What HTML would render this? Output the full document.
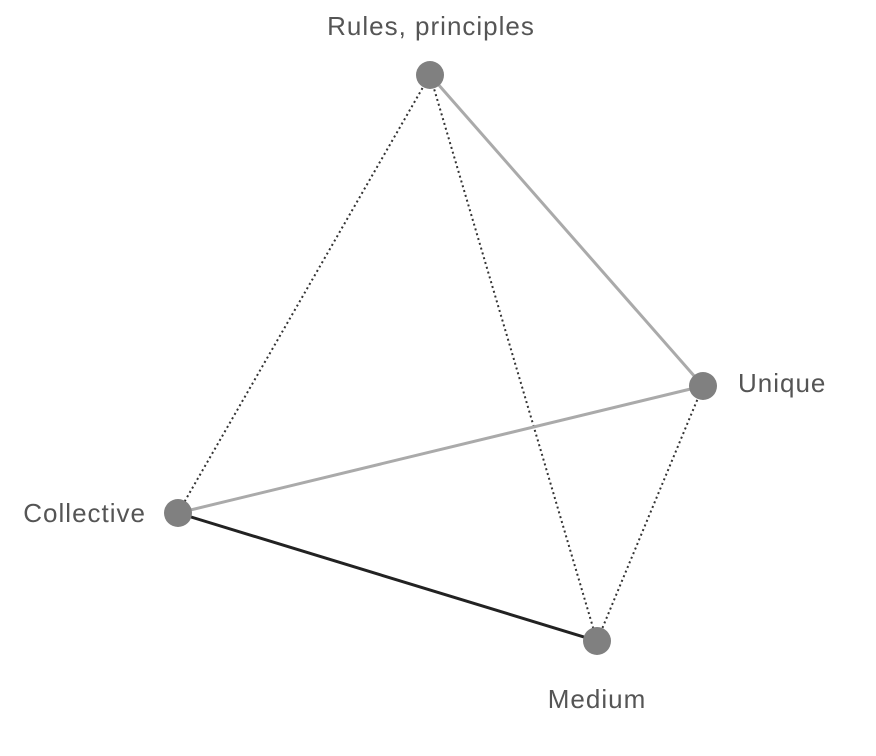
<!DOCTYPE html>
<html><head><style>html,body{margin:0;padding:0;background:#fff;}svg{display:block}</style></head>
<body>
<svg width="876" height="756" xmlns="http://www.w3.org/2000/svg">
<g stroke-width="2" fill="none">
<line x1="430" y1="75" x2="178" y2="513" stroke="#333" stroke-dasharray="2,3"/>
<line x1="430" y1="75" x2="597" y2="641" stroke="#333" stroke-dasharray="2,3"/>
<line x1="703" y1="386" x2="597" y2="641" stroke="#333" stroke-dasharray="2,3"/>
<line x1="430" y1="75" x2="703" y2="386" stroke="#aaa" stroke-width="3"/>
<line x1="703" y1="386" x2="178" y2="513" stroke="#aaa" stroke-width="3"/>
<line x1="178" y1="513" x2="597" y2="641" stroke="#222" stroke-width="3"/>
</g>
<g fill="#808080">
<circle cx="430" cy="75" r="14"/>
<circle cx="703" cy="386" r="14"/>
<circle cx="178" cy="513" r="14"/>
<circle cx="597" cy="641" r="14"/>
</g>
<g font-family="Liberation Sans, sans-serif" font-size="26" letter-spacing="1" fill="#555">
<text x="431" y="35" text-anchor="middle">Rules, principles</text>
<text x="738" y="392">Unique</text>
<text x="146" y="522" text-anchor="end">Collective</text>
<text x="597" y="708" text-anchor="middle">Medium</text>
</g>
</svg>
</body></html>
